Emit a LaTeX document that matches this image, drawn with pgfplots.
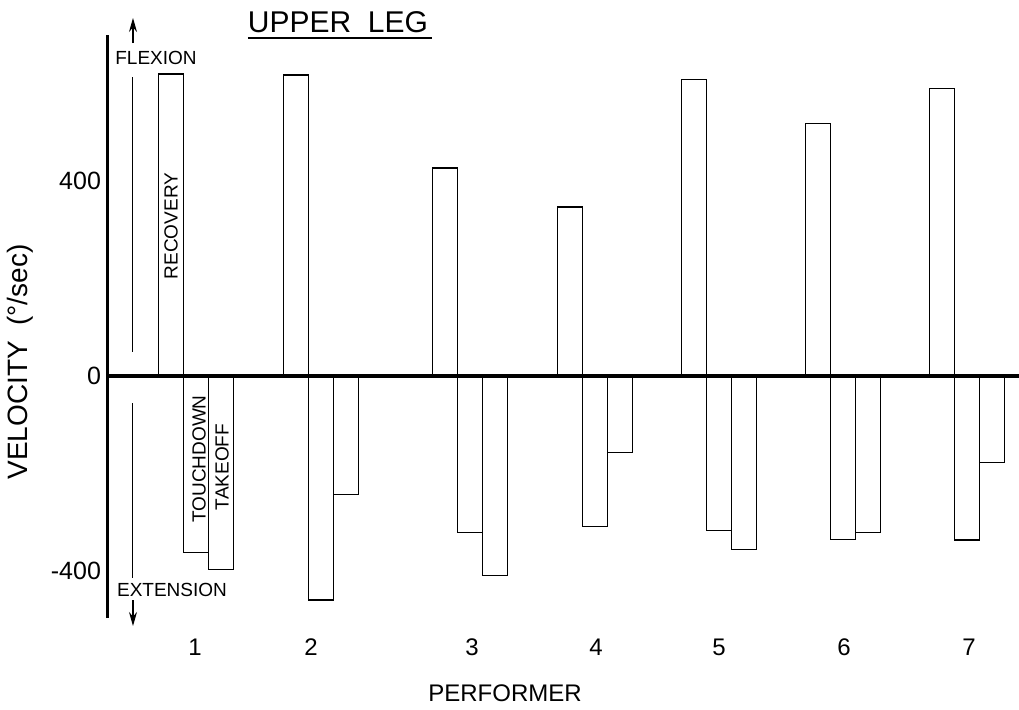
\documentclass[border=0pt]{standalone}
\usepackage{fontspec}
\setmainfont{Liberation Sans}
\usepackage{pgfplots}
\usepackage{pgfplotstable}
\pgfplotsset{compat=1.18}
\usetikzlibrary{arrows.meta}

\pgfplotstableread{
x y
171 620
296 618
445 427
570 347
694 609
818 519
942 590
}\recovery
\pgfplotstableread{
x y
196 -361
321 -459
470 -320
595 -308
719 -316
843 -335
967 -336
}\touchdown
\pgfplotstableread{
x y
221 -396
346 -242
495 -409
620 -157
744 -355
868 -321
992 -177
}\takeoff

\begin{document}
\begin{tikzpicture}
\useasboundingbox (-54pt,-45.5pt) rectangle (455.5pt,309pt);
\begin{axis}[
  scale only axis,
  width=455.5pt, height=291.5pt,
  xmin=108, xmax=1019,
  ymin=-496, ymax=700,
  axis x line*=bottom, axis y line*=left,
  x axis line style={draw=none},
  y axis line style={line width=1.5pt},
  major tick length=0pt,
  xtick={195,311,472,596,719,844,969},
  xticklabels={1,2,3,4,5,6,7},
  ytick={-400,0,400},
  /pgf/number format/assume math mode=true,
  xticklabel style={font=\fontsize{12}{14}\selectfont, yshift=-7pt},
  yticklabel style={font=\fontsize{12.5}{14}\selectfont},
  ybar, bar width=25, bar shift=0pt,
  clip=false,
]
\addplot[draw=black, fill=white, line width=0.6pt, bar shift=0pt] table[x=x,y=y] {\recovery};
\addplot[draw=black, fill=white, line width=0.6pt, bar shift=0pt] table[x=x,y=y] {\touchdown};
\addplot[draw=black, fill=white, line width=0.6pt, bar shift=0pt] table[x=x,y=y] {\takeoff};
\draw[line width=2pt] (axis cs:108,0) -- (axis cs:1019,0);
\end{axis}
% title
\node[anchor=base, font=\fontsize{15}{18}\selectfont] at (115pt,293pt) {UPPER\ \ LEG};
\draw[line width=1.2pt] (70pt,290pt) -- (162pt,290pt);
% flexion / extension
\node[font=\fontsize{9.5}{11}\selectfont] at (24pt,280pt) {FLEXION};
\draw[line width=0.6pt, -{Stealth[length=7pt,width=4pt]}] (12.5pt,287.5pt) -- (12.5pt,300pt);
\draw[line width=0.5pt] (12.5pt,270.5pt) -- (12.5pt,133pt);
\draw[line width=0.5pt] (12.5pt,107.5pt) -- (12.5pt,20pt);
\node[font=\fontsize{9.5}{11}\selectfont] at (32pt,14pt) {EXTENSION};
\draw[line width=0.6pt, -{Stealth[length=7pt,width=4pt]}] (12.5pt,9pt) -- (12.5pt,-4pt);
% bar names
\node[rotate=90, font=\fontsize{9.5}{11}\selectfont] at (31.5pt,196pt) {RECOVERY};
\node[rotate=90, font=\fontsize{9.5}{11}\selectfont] at (45.5pt,79.5pt) {TOUCHDOWN};
\node[rotate=90, font=\fontsize{9.5}{11}\selectfont] at (57pt,75.5pt) {TAKEOFF};
% axis labels
\node[rotate=90, font=\fontsize{14}{16}\selectfont] at (-44pt,128pt) {VELOCITY\ \ (°/sec)};
\node[font=\fontsize{12}{14}\selectfont] at (198.5pt,-37.5pt) {PERFORMER};
\end{tikzpicture}
\end{document}
